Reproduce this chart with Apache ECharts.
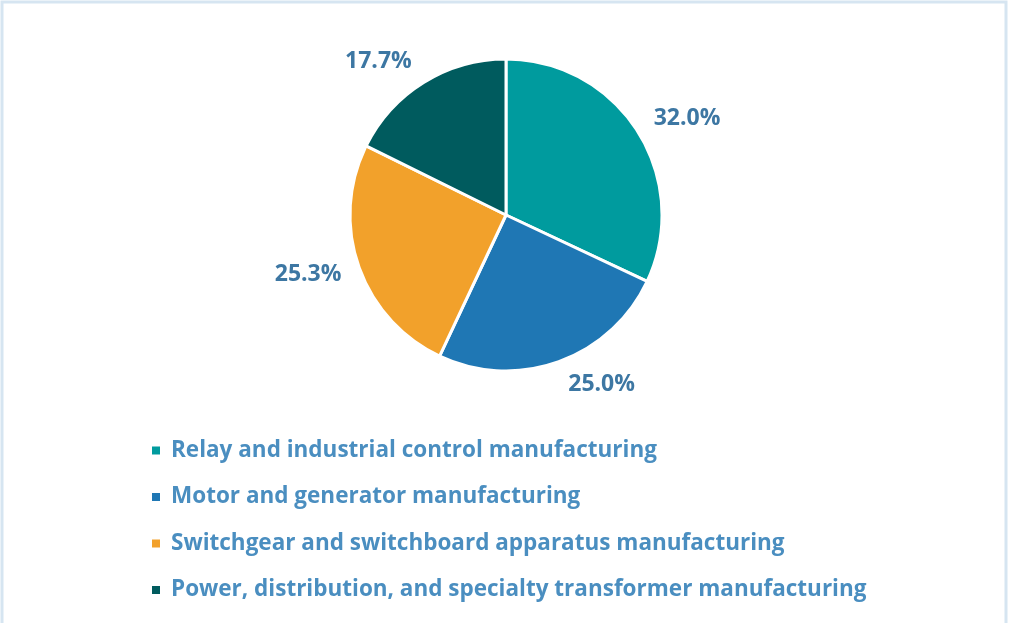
<!DOCTYPE html>
<html>
<head>
<meta charset="utf-8">
<script src="https://cdn.jsdelivr.net/npm/echarts@6/dist/echarts.min.js"></script>
<style>
  html, body { margin: 0; padding: 0; background: #ffffff; }
  #chart { width: 1009px; height: 623px; }
</style>
</head>
<body>
<div id="chart"></div>
<script>
// Industry share of output
const categories = [
  'Relay and industrial control manufacturing',
  'Motor and generator manufacturing',
  'Switchgear and switchboard apparatus manufacturing',
  'Power, distribution, and specialty transformer manufacturing'
];
const shares = [32.0, 25.0, 25.3, 17.7];
const colors = ['#009b9e', '#1f77b4', '#f2a12b', '#005b5e'];

const chart = echarts.init(document.getElementById('chart'), null, { renderer: 'canvas' });

const data = categories.map((name, i) => ({
  name,
  value: shares[i],
  itemStyle: { color: colors[i] }
}));

// mid-angle of each slice, measured clockwise from 12 o'clock
const total = shares.reduce((a, b) => a + b, 0);
const midAngles = [];
shares.reduce((acc, v) => {
  midAngles.push((acc + v / 2) / total * 2 * Math.PI);
  return acc + v;
}, 0);

chart.setOption({
  animation: false,
  backgroundColor: '#ffffff',
  graphic: [{
    type: 'rect',
    shape: { x: 2, y: 2, width: 1004, height: 640 },
    style: { fill: 'none', stroke: '#d6e5f1', lineWidth: 3 },
    silent: true
  }],
  legend: {
    orient: 'vertical',
    left: 145,
    top: 434,
    itemWidth: 10,
    itemHeight: 10,
    itemGap: 23.5,
    icon: 'rect',
    selectedMode: false,
    data: categories,
    textStyle: {
      fontFamily: 'Open Sans',
      fontWeight: 'bold',
      fontSize: 22.5,
      color: '#4a8ec0',
      padding: [0, 0, 0, 5]
    }
  },
  series: [{
    type: 'pie',
    center: [506, 215],
    radius: [0, 156],
    startAngle: 90,
    clockwise: true,
    data,
    itemStyle: { borderColor: '#ffffff', borderWidth: 3 },
    label: {
      show: true,
      position: 'outside',
      formatter: p => p.value.toFixed(1) + '%',
      fontFamily: 'Open Sans',
      fontWeight: 'bold',
      fontSize: 23,
      color: '#3d77a3'
    },
    labelLine: { show: false, length: 13, length2: 0 },
    // keep the whole label box clear of the rim: shift by half its height along the slice direction
    labelLayout: p => ({ dy: -p.labelRect.height / 2 * Math.cos(midAngles[p.dataIndex]) }),
    emphasis: { disabled: true }
  }]
});
</script>
</body>
</html>
